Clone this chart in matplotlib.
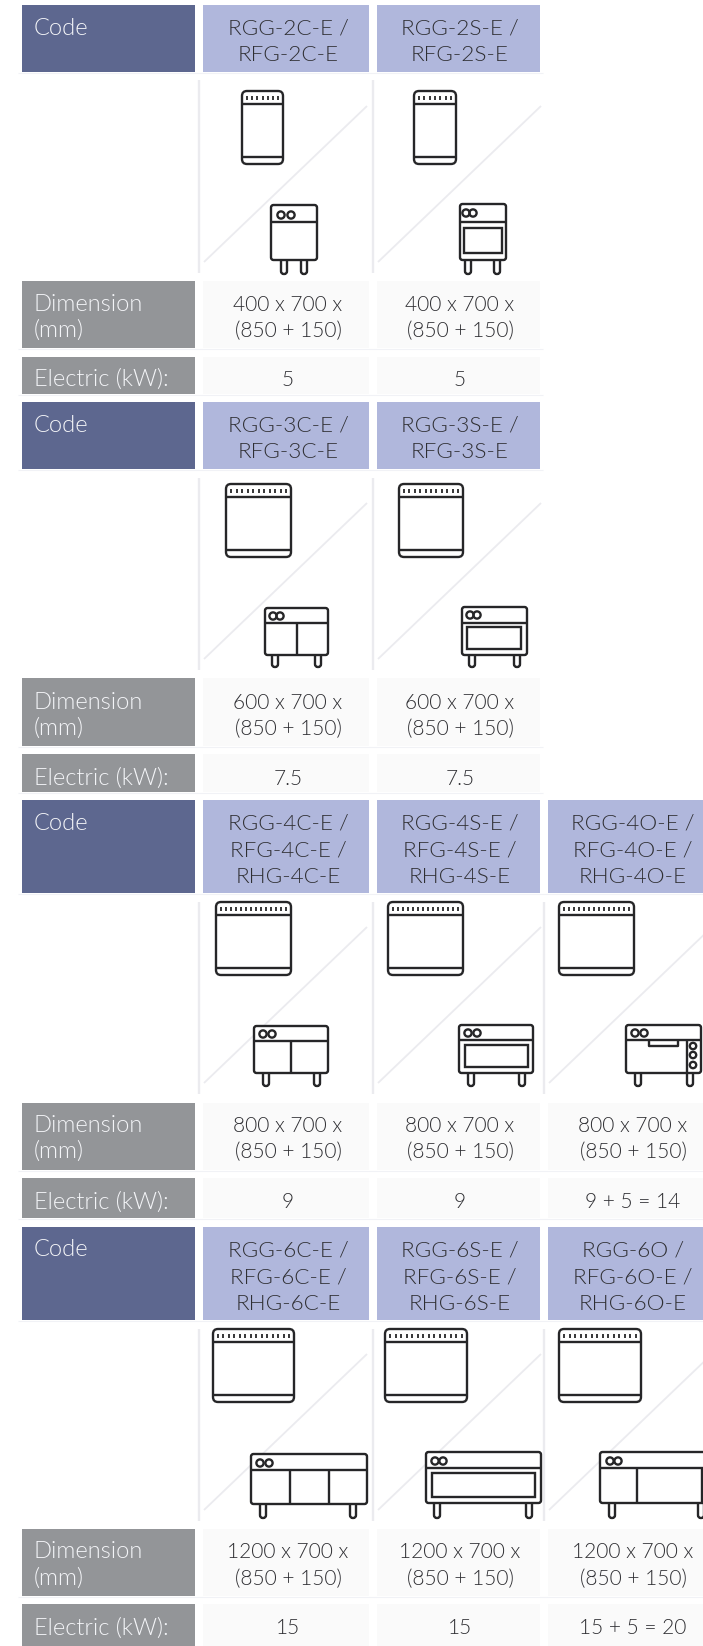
import matplotlib
matplotlib.use("Agg")
import matplotlib.pyplot as plt
from matplotlib.patches import Rectangle, FancyBboxPatch, Circle

W, H = 703, 1646
# ---------- data ----------
row_labels = ["Code", "Dimension\n(mm)", "Electric (kW):"]
codes_2 = ["RGG-2C-E /\nRFG-2C-E", "RGG-2S-E /\nRFG-2S-E"]
codes_3 = ["RGG-3C-E /\nRFG-3C-E", "RGG-3S-E /\nRFG-3S-E"]
codes_4 = ["RGG-4C-E /\nRFG-4C-E /\nRHG-4C-E", "RGG-4S-E /\nRFG-4S-E /\nRHG-4S-E", "RGG-4O-E /\nRFG-4O-E /\nRHG-4O-E"]
codes_6 = ["RGG-6C-E /\nRFG-6C-E /\nRHG-6C-E", "RGG-6S-E /\nRFG-6S-E /\nRHG-6S-E", "RGG-6O /\nRFG-6O-E /\nRHG-6O-E"]
dims_2 = ["400 x 700 x\n(850 + 150)"] * 2
dims_3 = ["600 x 700 x\n(850 + 150)"] * 2
dims_4 = ["800 x 700 x\n(850 + 150)"] * 3
dims_6 = ["1200 x 700 x\n(850 + 150)"] * 3
elec_2 = ["5", "5"]
elec_3 = ["7.5", "7.5"]
elec_4 = ["9", "9", "9 + 5 = 14"]
elec_6 = ["15", "15", "15 + 5 = 20"]

# ---------- layout (pixels) ----------
col_x = [(203, 369), (377, 540), (548, 718)]
col_cx = [288, 460, 633]
vline_x = [199, 373, 544]
sections = [
    dict(codes=codes_2, dims=dims_2, elec=elec_2, head=(5, 72), img=(80, 273), dim=(281, 348), el=(357, 394), nb=7,
         ty=(27, 303, 378)),
    dict(codes=codes_3, dims=dims_3, elec=elec_3, head=(402, 469), img=(478, 670), dim=(678, 746), el=(754, 792), nb=11,
         ty=(424, 701, 777)),
    dict(codes=codes_4, dims=dims_4, elec=elec_4, head=(800, 893), img=(902, 1094), dim=(1103, 1170), el=(1178, 1218), nb=14,
         ty=(822, 1124, 1201)),
    dict(codes=codes_6, dims=dims_6, elec=elec_6, head=(1227, 1320), img=(1329, 1521), dim=(1529, 1596), el=(1604, 1646), nb=14,
         ty=(1249, 1551, 1627)),
]
top_icons = [[(242, 283), (414, 456)], [(226, 291), (399, 463)],
             [(216, 291), (388, 463), (559, 634)], [(213, 294), (385, 467), (559, 641)]]
bot_icons = [
    [dict(x=(271, 317), y=(205, 260), d=222, legs=(284, 304), le=274, k=(281, 291), ky=215),
     dict(x=(460, 506), y=(204, 260), d=222, legs=(468, 497), le=274, k=(466, 473), ky=213, inner=(464, 502, 228, 253))],
    [dict(x=(265, 328), y=(608, 655), d=623, legs=(275, 318), le=667, k=(273, 280), ky=616, doors=[297]),
     dict(x=(462, 527), y=(607, 655), d=623, legs=(472, 517), le=667, k=(470, 477), ky=615, inner=(467, 521, 627, 649))],
    [dict(x=(254, 328), y=(1026, 1073), d=1041, legs=(266, 317), le=1086, k=(263, 272), ky=1034, doors=[291]),
     dict(x=(459, 533), y=(1025, 1073), d=1040, legs=(471, 522), le=1086, k=(468, 477), ky=1033, inner=(465, 528, 1045, 1067)),
     dict(x=(626, 701), y=(1025, 1073), d=1040, legs=(638, 690), le=1086, k=(635, 644), ky=1033, handle=(649, 678, 1046), panel=(687, 693, (1046, 1055, 1065)))],
    [dict(x=(251, 367), y=(1454, 1504), d=1470, legs=(263, 353), le=1518, k=(260, 269), ky=1463, doors=[290, 329]),
     dict(x=(426, 541), y=(1452, 1503), d=1468, legs=(437, 529), le=1518, k=(435, 443), ky=1461, inner=(432, 535, 1473, 1497)),
     dict(x=(600, 716), y=(1452, 1503), d=1468, legs=(612, 701), le=1518, k=(610, 618), ky=1461, doors=[637, 702])],
]

DARK = "#5d678f"; LIGHT = "#b0b7dc"; GRAY = "#939598"; PALE = "#fafafa"
INK = "#2f2f33"; LBL = "#f4f5f8"; RULE = "#ebebef"; ICON = "#262628"; HAIR = "#f1f2f6"
FONT = "Lato"
FS_CODE = 16.2
FS_DIM = 15.0
FS_LABEL = 17.0
LW = 1.7
STEP = 26.5

fig = plt.figure(figsize=(W / 100, H / 100), dpi=100, facecolor="white")
ax = fig.add_axes([0, 0, 1, 1])
ax.set_xlim(0, W); ax.set_ylim(H, 0); ax.axis("off")


def box(x0, y0, x1, y1, color):
    ax.add_patch(Rectangle((x0, y0), x1 - x0, y1 - y0, fc=color, ec="none", zorder=1))


def line(xs, ys, **kw):
    kw.setdefault("color", ICON); kw.setdefault("lw", LW)
    kw.setdefault("solid_capstyle", "butt")
    ax.plot(xs, ys, **kw)


def rbox(x0, y0, x1, y1, r=3):
    ax.add_patch(FancyBboxPatch((x0 + r, y0 + r), x1 - x0 - 2 * r, y1 - y0 - 2 * r,
                                boxstyle=f"round,pad={r},rounding_size={r}",
                                fc="white", ec=ICON, lw=LW, zorder=4))


def label(x, y, s, color, ha="center", fs=FS_CODE):
    # y is the middle of the capitals; text sits on its baseline
    ax.text(x, y + 7.5, s, color=color, ha=ha, va="baseline", family=FONT, weight=300, fontsize=fs, zorder=6)


def multiline(x, y0, s, color, ha="center", fs=FS_CODE):
    for i, t in enumerate(s.split("\n")):
        label(x, y0 + STEP * i, t, color, ha, fs)


def top_icon(x0, x1, y0, nb):
    rbox(x0, y0, x1, y0 + 73, r=5)
    line([x0, x1], [y0 + 13, y0 + 13], zorder=5)
    line([x0, x1], [y0 + 66, y0 + 66], zorder=5)
    for i in range(nb):
        xx = x0 + 5 + (x1 - x0 - 10) * i / (nb - 1)
        line([xx, xx], [y0 + 5, y0 + 9], lw=1.3, zorder=5)


def bottom_icon(b):
    x0, x1 = b["x"]; y0, y1 = b["y"]
    for lx in b["legs"]:
        rbox(lx - 3, y1 - 3, lx + 3, b["le"], r=2.8)
    rbox(x0, y0, x1, y1, r=2.5)
    line([x0, x1], [b["d"], b["d"]], zorder=5)
    for kx in b["k"]:
        ax.add_patch(Circle((kx, b["ky"]), 3.6, fc="none", ec=ICON, lw=LW, zorder=5))
    for dx in b.get("doors", []):
        line([dx, dx], [b["d"], y1], zorder=5)
    if "inner" in b:
        a, c, e, f = b["inner"]
        ax.add_patch(Rectangle((a, e), c - a, f - e, fc="none", ec=ICON, lw=LW, zorder=5))
    if "handle" in b:
        a, c, e = b["handle"]
        line([a, a, c, c], [b["d"], e, e, b["d"]], zorder=5)
        line([b["panel"][0]] * 2, [b["d"], y1], zorder=5)
        for yy in b["panel"][2]:
            ax.add_patch(Circle((b["panel"][1], yy), 3.2, fc="none", ec=ICON, lw=LW, zorder=5))


for si, s in enumerate(sections):
    n = len(s["codes"])
    right = col_x[n - 1][1]
    for yy in (s["head"][1], s["dim"][1], s["el"][1]):
        line([18, min(right + 3, W)], [yy + 0.5, yy + 0.5], color=HAIR, lw=0.8, zorder=0.5)
    box(22, s["head"][0], 195, s["head"][1], DARK)
    box(22, s["dim"][0], 195, s["dim"][1], GRAY)
    box(22, s["el"][0], 195, s["el"][1], GRAY)
    ty_code, ty_dim, ty_el = s["ty"]
    label(33.5, ty_code, row_labels[0], LBL, ha="left", fs=FS_LABEL)
    multiline(33.5, ty_dim, row_labels[1], LBL, ha="left", fs=FS_LABEL)
    label(33.5, ty_el, row_labels[2], LBL, ha="left", fs=FS_LABEL)
    for c in range(n):
        x0, x1 = col_x[c]
        box(x0, s["head"][0], x1, s["head"][1], LIGHT)
        box(x0, s["dim"][0], x1, s["dim"][1], PALE)
        box(x0, s["el"][0], x1, s["el"][1], PALE)
        multiline(col_cx[c], ty_code, s["codes"][c], INK)
        multiline(col_cx[c], ty_dim, s["dims"][c], INK, fs=FS_DIM)
        label(col_cx[c], ty_el, s["elec"][c], INK, fs=FS_DIM)
        iy0, iy1 = s["img"]
        line([vline_x[c]] * 2, [iy0, iy1], color=RULE, lw=1.7)
        line([x0 + 1, x0 + 164], [iy1 - 11, iy1 - 167], color=RULE, lw=1.3)
        a, b = top_icons[si][c]
        top_icon(a, b, iy0 + 11 if si == 0 else iy0 + 6 if si == 1 else iy0, s["nb"])
        bottom_icon(bot_icons[si][c])

fig.savefig("out.png", dpi=100, facecolor="white")
